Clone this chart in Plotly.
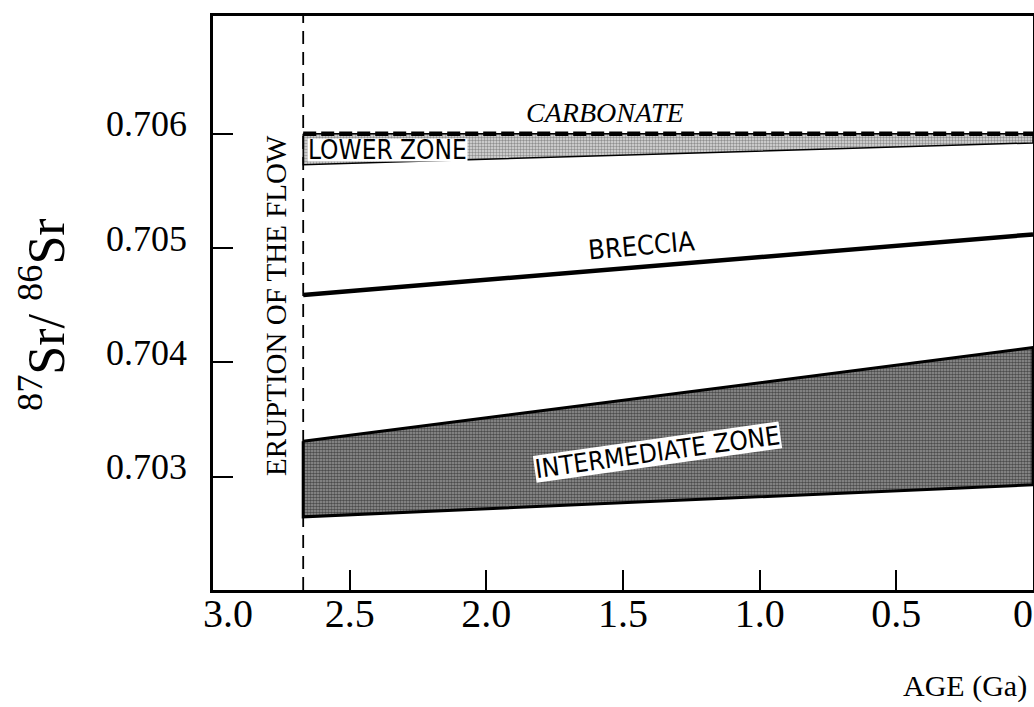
import plotly.graph_objects as go

# ages (Ga) where the zones start (eruption) and end (today)
ages = [2.67, 0.0]
eruption_age = 2.67

# 87Sr/86Sr values at the two ages
carbonate = [0.70600, 0.70600]
lower_zone_top = [0.70600, 0.70600]
lower_zone_bottom = [0.70573, 0.70592]
breccia = [0.70459, 0.70512]
intermediate_top = [0.70331, 0.70413]
intermediate_bottom = [0.70265, 0.70293]

x_ticks = [3.0, 2.5, 2.0, 1.5, 1.0, 0.5, 0.0]
x_tick_text = ["&nbsp;&nbsp;&nbsp;3.0", "2.5", "2.0", "1.5", "1.0", "0.5", "0&nbsp;&nbsp;"]
y_ticks = [0.703, 0.704, 0.705, 0.706]
y_tick_text = ["0.703", "0.704", "0.705", "0.706"]

serif = "Liberation Serif, Times New Roman, serif"
narrow = "Liberation Sans Narrow, Arial Narrow, DejaVu Sans Condensed, sans-serif"


def band(top, bottom):
    xs = [ages[0], ages[1], ages[1], ages[0], ages[0]]
    ys = [top[0], top[1], bottom[1], bottom[0], top[0]]
    return xs, ys


fig = go.Figure()

# intermediate zone
xs, ys = band(intermediate_top, intermediate_bottom)
fig.add_trace(go.Scatter(x=xs, y=ys, mode='lines', fill='toself',
                         fillcolor='#666666',
                         fillpattern=dict(shape='.', fgcolor='black', bgcolor='#999999',
                                          size=3, solidity=0.6),
                         line=dict(color='black', width=3), hoverinfo='skip'))

# lower zone
xs, ys = band(lower_zone_top, lower_zone_bottom)
fig.add_trace(go.Scatter(x=xs, y=ys, mode='lines', fill='toself',
                         fillcolor='#b8b8b8',
                         fillpattern=dict(shape='.', fgcolor='#404040', bgcolor='#dedede',
                                          size=3, solidity=0.5),
                         line=dict(color='black', width=1.5), hoverinfo='skip'))

# carbonate
fig.add_trace(go.Scatter(x=ages, y=carbonate, mode='lines',
                         line=dict(color='black', width=4.5, dash='13px,5px'), hoverinfo='skip'))

# breccia
fig.add_trace(go.Scatter(x=ages, y=breccia, mode='lines',
                         line=dict(color='black', width=4.5), hoverinfo='skip'))

# eruption of the flow
fig.add_vline(x=eruption_age, line=dict(color='black', width=1.8, dash='13px,8px'))

labels = [
    dict(x=1.566, y=0.706184, text="<i>CARBONATE</i>", font=dict(family=serif, size=28), textangle=0),
    dict(x=2.36, y=0.705855, text="LOWER ZONE", font=dict(family=narrow, size=26), textangle=0,
         bgcolor='white', height=22),
    dict(x=1.434, y=0.705026, text="BRECCIA", font=dict(family=narrow, size=27), textangle=-5),
    dict(x=1.372, y=0.703219, text="INTERMEDIATE ZONE", font=dict(family=narrow, size=26),
         textangle=-8, bgcolor='white', height=26),
    dict(x=2.769, y=0.704496, text="ERUPTION OF THE FLOW", font=dict(family=serif, size=29),
         textangle=-90),
]
for lab in labels:
    lab['font']['color'] = 'black'
    fig.add_annotation(xref='x', yref='y', showarrow=False, borderpad=0, **lab)

fig.add_annotation(xref='paper', yref='paper', x=0, xshift=-171, y=0.479, showarrow=False,
                   xanchor='center', yanchor='middle',
                   text="<sup>87</sup>Sr/ <sup>86</sup>Sr", textangle=-90,
                   font=dict(family=serif, size=52, color='black'))
fig.add_annotation(xref='paper', yref='paper', x=0.917, y=-0.167, showarrow=False,
                   xanchor='center', yanchor='middle',
                   text="AGE (Ga)", font=dict(family=serif, size=30, color='black'))

fig.update_xaxes(range=[3.0, 0.0], tickvals=x_ticks, ticktext=x_tick_text,
                 ticks='inside', ticklen=20, tickwidth=1.5, tickcolor='black',
                 showline=True, linecolor='black', linewidth=2.5, mirror=True,
                 showgrid=False, zeroline=False, automargin=False,
                 ticklabeloverflow='allow', ticklabelstandoff=-14,
                 tickfont=dict(family=serif, size=40, color='black'))
fig.update_yaxes(range=[0.70201, 0.70703], tickvals=y_ticks, ticktext=y_tick_text,
                 ticks='inside', ticklen=20, tickwidth=1.5, tickcolor='black',
                 showline=True, linecolor='black', linewidth=2.5, mirror=True,
                 showgrid=False, zeroline=False, automargin=False,
                 ticklabelshift=-10, ticklabelstandoff=16,
                 tickfont=dict(family=serif, size=36, color='black'))

fig.update_layout(width=1034, height=707, showlegend=False,
                  margin=dict(l=213, r=1, t=16, b=117),
                  plot_bgcolor='white', paper_bgcolor='white')

fig.write_html("out.html", config={'displayModeBar': False},
               post_script="document.body.style.margin='0';document.body.style.overflow='hidden';")
